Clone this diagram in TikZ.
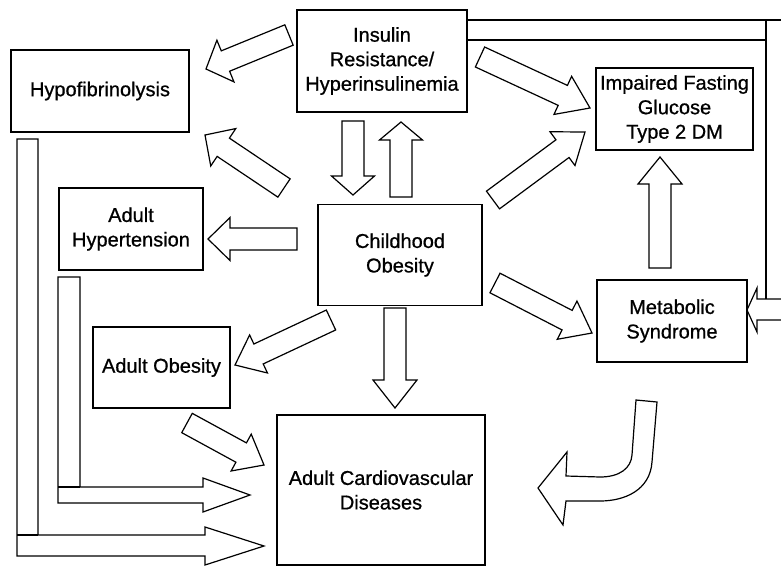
\documentclass[tikz,border=0pt]{standalone}
\usepackage{fontspec}
\setmainfont{Liberation Sans}[FakeBold=0.8]
\usetikzlibrary{calc}
\tikzset{
     block/.style={
           rectangle,
           draw=black, line width=1.3pt,
           inner sep=0pt,
           align=center,
           font=\fontsize{20}{24.5}\selectfont,
           },
     hollow/.style={
           draw=black, line width=1.2pt,
           fill=white,
           line join=miter,
           },
}
% hollow block arrow: tail, tip, shaft half width, head half width, head length
\newcommand{\fatarrow}[5]{%
  \coordinate (fa-base) at ($(#2)!#5!(#1)$);
  \draw[hollow] ($(#1)!#3!90:(#2)$) -- ($(fa-base)!#3!90:(#2)$)
     -- ($(fa-base)!#4!90:(#2)$) -- (#2) -- ($(fa-base)!#4!-90:(#2)$)
     -- ($(fa-base)!#3!-90:(#2)$) -- ($(#1)!#3!-90:(#2)$) -- cycle;
}
\begin{document}
\begin{tikzpicture}[x=1pt,y=-1pt]
	\useasboundingbox (0,0) rectangle (781,568);

	\node[block, minimum width=170pt, minimum height=102pt] (insulin) at (382,61)
		{Insulin\\Resistance/\\Hyperinsulinemia};
	\node[block, minimum width=178pt, minimum height=82pt] (hypofib) at (100,91)
		{Hypofibrinolysis};
	\node[block, minimum width=157pt, minimum height=82pt] (ifg) at (674.5,109)
		{Impaired Fasting\\Glucose\\Type 2 DM};
	\node[block, minimum width=144pt, minimum height=82pt] (hypert) at (131,229)
		{Adult\\Hypertension};
	\node[block, minimum width=164pt, minimum height=101pt] (child) at (400,255)
		{Childhood\\Obesity};
	\node[block, minimum width=150pt, minimum height=82pt] (metab) at (672,321)
		{Metabolic\\Syndrome};
	\node[block, minimum width=137pt, minimum height=81pt] (adultob) at (161.5,367.5)
		{Adult Obesity};
	\node[block, minimum width=208pt, minimum height=150pt] (cvd) at (381,490)
		{Adult Cardiovascular\\Diseases};

	% arrow ends
	\coordinate (ir-hf-s) at (289,35);   \coordinate (ir-hf-e) at (206,69);
	\coordinate (ch-hf-s) at (284,188);  \coordinate (ch-hf-e) at (205,135);
	\coordinate (ch-ht-s) at (297,239);  \coordinate (ch-ht-e) at (208,239);
	\coordinate (ch-ao-s) at (331,320);  \coordinate (ch-ao-e) at (235,365);
	\coordinate (ao-cv-s) at (187,423);  \coordinate (ao-cv-e) at (264,465);
	\coordinate (ch-cv-s) at (395,308);  \coordinate (ch-cv-e) at (395,408);
	\coordinate (ir-ifg-s) at (480,57);  \coordinate (ir-ifg-e) at (590,108);
	\coordinate (ch-ifg-s) at (493,200); \coordinate (ch-ifg-e) at (585,132);
	\coordinate (ch-ms-s) at (495,283);  \coordinate (ch-ms-e) at (592,333);
	\coordinate (ms-ifg-s) at (660,268); \coordinate (ms-ifg-e) at (660,157);
	\coordinate (ir-ch-s) at (353,121);  \coordinate (ir-ch-e) at (353,195);
	\coordinate (ch-ir-s) at (401,197);  \coordinate (ch-ir-e) at (401,122);

	\fatarrow{ir-hf-s}{ir-hf-e}{11pt}{22.5pt}{21pt}
	\fatarrow{ch-hf-s}{ch-hf-e}{11pt}{22.5pt}{22pt}
	\fatarrow{ch-ht-s}{ch-ht-e}{11pt}{21.5pt}{22pt}
	\fatarrow{ch-ao-s}{ch-ao-e}{11pt}{21pt}{26pt}
	\fatarrow{ao-cv-s}{ao-cv-e}{11pt}{21pt}{26pt}
	\fatarrow{ch-cv-s}{ch-cv-e}{11pt}{22pt}{28pt}
	\fatarrow{ir-ifg-s}{ir-ifg-e}{11pt}{21pt}{30pt}
	\fatarrow{ch-ifg-s}{ch-ifg-e}{11pt}{21pt}{28pt}
	\fatarrow{ch-ms-s}{ch-ms-e}{11pt}{21.5pt}{28pt}
	\fatarrow{ms-ifg-s}{ms-ifg-e}{11pt}{22pt}{27pt}
	\fatarrow{ir-ch-s}{ir-ch-e}{11pt}{21.5pt}{19pt}
	\fatarrow{ch-ir-s}{ch-ir-e}{11pt}{21.5pt}{18pt}

	% bent arrow from metabolic syndrome
	\draw[hollow] (636,400) -- (657,402) -- (652,462)
		.. controls (650,490) and (625,501) .. (600,501) -- (566,501)
		-- (563,525) -- (538,488) -- (567,452) -- (566,476) -- (600,477)
		.. controls (620,477) and (631,468) .. (632,455) -- cycle;

	% channels on the left
	\draw[hollow] (17,139) -- (38,139) -- (38,535) -- (205,535) -- (205,527)
		-- (264,546) -- (205,565) -- (205,556) -- (17,556) -- cycle;
	\draw[hollow] (17,535) -- (38,535);
	\draw[hollow] (58,277) -- (80,277) -- (80,487) -- (203,487) -- (203,478)
		-- (250,495) -- (203,512) -- (203,503) -- (58,503) -- cycle;
	\draw[hollow] (58,487) -- (80,487);

	% channel on the right
	\draw[hollow] (insulin.east |- 0,20) -- (781,20);
	\draw[hollow] (insulin.east |- 0,40) -- (766,40);
	\draw[hollow] (766,20) -- (766,299);
	\draw[hollow] (781,299) -- (757,299) -- (757,288) -- (747,310)
		-- (757,332) -- (757,320) -- (781,320);
\end{tikzpicture}
\end{document}
